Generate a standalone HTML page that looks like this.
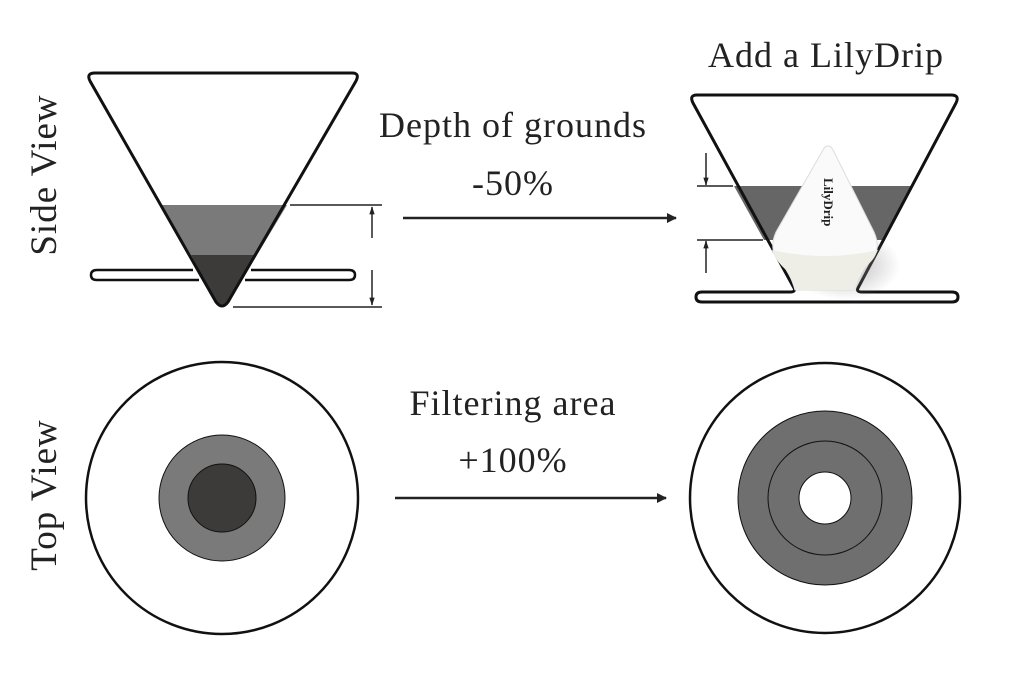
<!DOCTYPE html>
<html><head><style>
html,body{margin:0;padding:0;background:#fff;}
svg{display:block;}
text{font-family:"Liberation Serif",serif;fill:#222;}
</style></head><body>
<svg width="1024" height="673" viewBox="0 0 1024 673" xmlns="http://www.w3.org/2000/svg">
<defs>
<marker id="ah" markerWidth="10" markerHeight="10" refX="9" refY="5" orient="auto" markerUnits="userSpaceOnUse"><path d="M0,0 L10,5 L0,10 z" fill="#222"/></marker>
<marker id="as" markerWidth="8" markerHeight="12" refX="11" refY="4" orient="auto" markerUnits="userSpaceOnUse" viewBox="0 0 12 8"><path d="M0,0 L12,4 L0,8 z" fill="#222"/></marker>
<radialGradient id="sh" cx="0.5" cy="0.5" r="0.5"><stop offset="0" stop-color="#888" stop-opacity="0.6"/><stop offset="1" stop-color="#888" stop-opacity="0"/></radialGradient>
</defs>
<text x="0" y="0" font-size="37" letter-spacing="1" text-anchor="middle" transform="translate(56,175) rotate(-90)">Side View</text>
<text x="0" y="0" font-size="37" letter-spacing="1" text-anchor="middle" transform="translate(56,495) rotate(-90)">Top View</text>
<text x="513" y="137" font-size="36" letter-spacing="1" text-anchor="middle">Depth of grounds</text>
<text x="513" y="195" font-size="36" letter-spacing="1" text-anchor="middle">-50%</text>
<text x="826" y="67" font-size="36" letter-spacing="1" text-anchor="middle">Add a LilyDrip</text>
<text x="513" y="415" font-size="36" letter-spacing="1" text-anchor="middle">Filtering area</text>
<text x="513" y="472" font-size="36" letter-spacing="1" text-anchor="middle">+100%</text>
<!-- left funnel -->
<path d="M161,205 L287,205 L257,255 L191,255 z" fill="#7a7a7a"/>
<path d="M191,255 L257,255 L228,302 Q222,310 216,302 z" fill="#3d3a3a"/>
<path d="M95,73 L352,73 Q360,73 356,81 L228,302 Q222,310 216,302 L90,81 Q86,73 95,73 z" fill="none" stroke="#111" stroke-width="3" stroke-linejoin="round"/>
<path d="M193,270 L97,270 Q91,270 91,275 Q91,280 97,280 L199,280 M251,270 L349,270 Q355,270 355,275 Q355,280 349,280 L245,280" fill="none" stroke="#111" stroke-width="2.5"/>
<line x1="290" y1="205" x2="382" y2="205" stroke="#222" stroke-width="1.5"/>
<line x1="233" y1="307" x2="382" y2="307" stroke="#222" stroke-width="1.5"/>
<line x1="372" y1="238" x2="372" y2="207" stroke="#222" stroke-width="1.5" marker-end="url(#as)"/>
<line x1="372" y1="270" x2="372" y2="305" stroke="#222" stroke-width="1.5" marker-end="url(#as)"/>
<!-- arrows -->
<line x1="403" y1="218" x2="676" y2="218" stroke="#222" stroke-width="2.5" marker-end="url(#ah)"/>
<line x1="395" y1="498" x2="666" y2="498" stroke="#222" stroke-width="2.5" marker-end="url(#ah)"/>
<!-- right funnel -->
<path d="M734,186 L913,186 L882,240 L764,240 z" fill="#666"/>
<path d="M697,95 L951,95 Q960,95 956,103 L858,288 Q856,292 862,292 L952,292 Q958,292 958,297 Q958,302 952,302 L702,302 Q696,302 696,297 Q696,292 702,292 L790,292 Q796,292 794,288 L693,103 Q689,95 697,95 z" fill="none" stroke="#111" stroke-width="3" stroke-linejoin="round"/>
<ellipse cx="845" cy="265" rx="55" ry="35" fill="url(#sh)"/>
<path d="M828,146 Q831,146 833,150 L874,232 Q882,250 870,262 Q860,272 855,290 L795,290 Q790,272 780,262 Q768,250 776,232 L823,150 Q825,146 828,146 z" fill="#fafafa" stroke="#ddd" stroke-width="1"/>
<path d="M772,250 Q825,262 878,250 Q872,262 862,270 Q857,280 855,290 L795,290 Q792,278 786,270 Q775,260 772,250 z" fill="#efeee6"/>
<text x="0" y="0" font-size="13" font-family="Liberation Mono,monospace" font-weight="bold" transform="translate(824,178) rotate(90)" fill="#222">LilyDrip</text>
<line x1="697" y1="186" x2="733" y2="186" stroke="#222" stroke-width="1.5"/>
<line x1="697" y1="240" x2="763" y2="240" stroke="#222" stroke-width="1.5"/>
<line x1="706" y1="153" x2="706" y2="185" stroke="#222" stroke-width="1.5" marker-end="url(#as)"/>
<line x1="706" y1="273" x2="706" y2="241" stroke="#222" stroke-width="1.5" marker-end="url(#as)"/>
<!-- left top view -->
<circle cx="222" cy="498" r="136" fill="none" stroke="#111" stroke-width="2.5"/>
<circle cx="222" cy="498" r="63" fill="#7a7a7a" stroke="#111" stroke-width="1"/>
<circle cx="222" cy="498" r="34" fill="#3d3a3a" stroke="#111" stroke-width="1"/>
<!-- right top view -->
<circle cx="825" cy="498" r="135" fill="none" stroke="#111" stroke-width="2.5"/>
<circle cx="825" cy="498" r="87" fill="#6f6f6f" stroke="#111" stroke-width="1"/>
<circle cx="825" cy="498" r="57" fill="none" stroke="#111" stroke-width="1"/>
<circle cx="825" cy="498" r="26" fill="#fff" stroke="#111" stroke-width="1"/>
</svg>
</body></html>
